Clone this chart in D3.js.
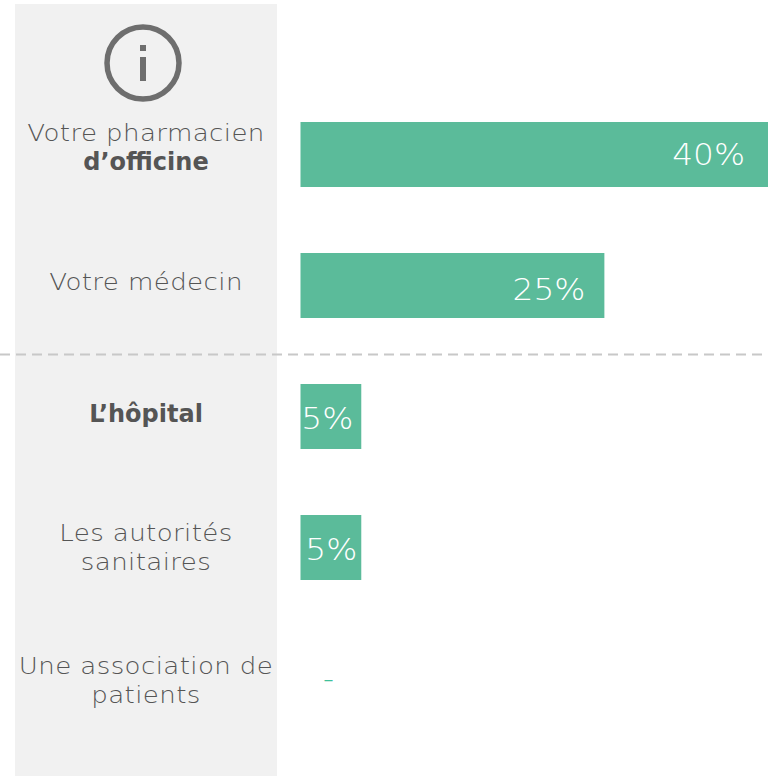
<!DOCTYPE html>
<html>
<head>
<meta charset="utf-8">
<script src="https://cdn.jsdelivr.net/npm/d3@7"></script>
<style>
html, body { margin: 0; padding: 0; background: #fff; }
svg { display: block; }
.label { font-family: "DejaVu Sans", sans-serif; font-weight: 200; font-size: 23.5px; letter-spacing: 0.35px; fill: #555; text-anchor: middle; }
.label.strong { font-family: "DejaVu Sans", sans-serif; font-weight: 700; font-size: 24px; letter-spacing: 0; fill: #555; }
.value { font-family: "DejaVu Sans", sans-serif; font-weight: 200; font-size: 29.5px; fill: #fff; text-anchor: end; }
.none { font-family: "DejaVu Sans", sans-serif; font-size: 18px; fill: #3fc09a; text-anchor: middle; }
</style>
</head>
<body>
<div id="chart"></div>
<script>
// values, bars are drawn a bit longer than their printed label
const categories = ['pharmacien', 'medecin', 'hopital', 'autorites', 'association'];
const barValues = [40, 26, 5.2, 5.2, 0];
const valueLabels = ['40%', '25%', '5%', '5%', '–'];
const labelLines = [
    [['Votre pharmacien', false], ['d’officine', true]],
    [['Votre médecin', false]],
    [['L’hôpital', true]],
    [['Les autorités', false], ['sanitaires', false]],
    [['Une association de', false], ['patients', false]]
];

const width = 768, height = 776;
const panel = { x: 15, y: 4, width: 262 };
const labelCenter = 146, lineHeight = 29;
const barColor = '#5bbb9a';

// how far each printed value sits from the end of its bar
const valueInset = [23, 19, 8, 4, 0];
const valueShift = [0, 4, 2, 2, 0];
const labelShift = [-7, -4, -3, 0, 2];
// the original face is wider than anything installed, so stretch the light text
const lightStretch = 1.11;

const svg = d3.select('#chart').append('svg')
    .attr('width', width)
    .attr('height', height);

svg.append('rect')
    .attr('x', panel.x)
    .attr('y', panel.y)
    .attr('width', panel.width)
    .attr('height', height - panel.y)
    .attr('fill', '#f1f1f1');

const xScale = d3.scaleLinear().domain([0, 40]).range([300.5, 768]);
const yScale = d3.scaleBand()
    .domain(categories)
    .range([122, 711])
    .paddingInner(66 / 131)
    .paddingOuter(0);

// info icon
const icon = svg.append('g').attr('transform', 'translate(143,63)');
icon.append('circle')
    .attr('r', 36)
    .attr('fill', 'none')
    .attr('stroke', '#6e6e6e')
    .attr('stroke-width', 5.5);
icon.append('rect').attr('x', -3).attr('y', -18).attr('width', 6).attr('height', 6).attr('fill', '#6e6e6e');
icon.append('rect').attr('x', -3).attr('y', -6).attr('width', 6).attr('height', 24).attr('fill', '#6e6e6e');

svg.selectAll('.bar')
    .data(categories)
    .join('rect')
    .attr('class', 'bar')
    .attr('x', xScale(0))
    .attr('y', d => yScale(d))
    .attr('width', (d, i) => xScale(barValues[i]) - xScale(0))
    .attr('height', yScale.bandwidth())
    .attr('fill', barColor);

svg.selectAll('.value')
    .data(categories)
    .join('text')
    .attr('class', (d, i) => barValues[i] > 0 ? 'value' : 'none')
    .attr('transform', (d, i) => {
        const x = barValues[i] > 0 ? xScale(barValues[i]) - valueInset[i] : 328.5;
        const y = yScale(d) + yScale.bandwidth() / 2 + valueShift[i];
        return `translate(${x},${y}) scale(${lightStretch},1)`;
    })
    .attr('dy', '.35em')
    .text((d, i) => valueLabels[i]);

categories.forEach((c, i) => {
    const lines = labelLines[i];
    const mid = yScale(c) + yScale.bandwidth() / 2 + labelShift[i];
    lines.forEach((line, j) => {
        const y = mid + (j - (lines.length - 1) / 2) * lineHeight;
        svg.append('text')
            .attr('class', line[1] ? 'label strong' : 'label')
            .attr('transform', `translate(${labelCenter},${y}) scale(${line[1] ? 1 : lightStretch},1)`)
            .attr('dy', '.35em')
            .text(line[0]);
    });
});

// dashed separator between the two groups
svg.append('line')
    .attr('x1', 0)
    .attr('x2', width)
    .attr('y1', 354.5)
    .attr('y2', 354.5)
    .attr('stroke', '#c8c8c8')
    .attr('stroke-width', 2)
    .attr('stroke-dasharray', '10,6');
</script>
</body>
</html>
